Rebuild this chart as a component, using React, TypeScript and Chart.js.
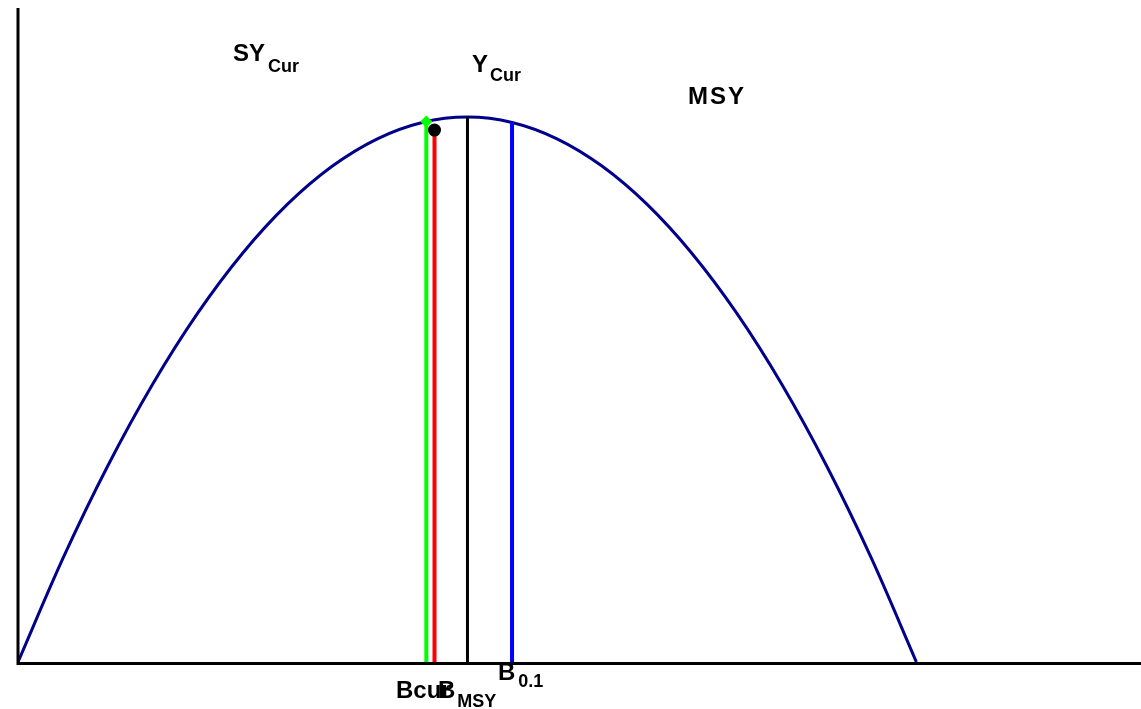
import React, { useEffect, useRef } from "react";
import { Chart, registerables } from "chart.js";

Chart.register(...registerables);

// Biomass (relative to K) and surplus production
const biomass = [0, 0.05, 0.1, 0.15, 0.2, 0.25, 0.3, 0.35, 0.4, 0.45, 0.5, 0.55, 0.6, 0.65, 0.7, 0.75, 0.8, 0.85, 0.9, 0.95, 1.0];
const production = [0, 0.0475, 0.09, 0.1275, 0.16, 0.1875, 0.21, 0.2275, 0.24, 0.2475, 0.25, 0.2475, 0.24, 0.2275, 0.21, 0.1875, 0.16, 0.1275, 0.09, 0.0475, 0];

// Reference points
const bCur = 0.4545;
const sYCur = 0.2479;
const bMsyRed = 0.4636;
const yCur = 0.244;
const bMsy = 0.5003;
const msy = 0.25;
const b01 = 0.5499;
const y01 = 0.2475;

const xMax = 1.25;
const yMax = 0.3;

type Label = { x: number; y: number; main: string; sub: string; size: number; subSize: number; subDy: number; gap: number; spacing?: number };

const topLabels: Label[] = [
  { x: 0.2393, y: 0.2757, main: "SY", sub: "Cur", size: 24, subSize: 18, subDy: 11, gap: 3 },
  { x: 0.5053, y: 0.2706, main: "Y", sub: "Cur", size: 24, subSize: 18, subDy: 9, gap: 2 },
  { x: 0.7458, y: 0.256, main: "MSY", sub: "", size: 24, subSize: 18, subDy: 0, gap: 0, spacing: 2 },
];

const bottomLabels: Label[] = [
  { x: 0.4207, y: -0.0165, main: "Bcur", sub: "", size: 24, subSize: 18, subDy: 0, gap: 0 },
  { x: 0.4675, y: -0.0165, main: "B", sub: "MSY", size: 24, subSize: 18, subDy: 9, gap: 2 },
  { x: 0.5343, y: -0.00826, main: "B", sub: "0.1", size: 24, subSize: 18, subDy: 7, gap: 3 },
];

const FONT = '"Liberation Sans", Arial, sans-serif';

const annotatePlugin = {
  id: "annotate",
  afterDraw(chart: any) {
    const { ctx, chartArea, scales } = chart;
    const xs = scales.x;
    const ys = scales.y;
    ctx.save();
    // axes
    ctx.strokeStyle = "#000";
    ctx.lineWidth = 3;
    ctx.lineCap = "butt";
    const x0 = xs.getPixelForValue(0);
    const y0 = ys.getPixelForValue(0);
    ctx.beginPath();
    ctx.moveTo(x0, chartArea.top);
    ctx.lineTo(x0, y0 + 1.5);
    ctx.lineTo(chartArea.right, y0 + 1.5);
    ctx.stroke();

    ctx.fillStyle = "#000";
    ctx.textBaseline = "alphabetic";
    ctx.textAlign = "left";
    const drawLabel = (l: Label) => {
      const px = xs.getPixelForValue(l.x);
      const py = ys.getPixelForValue(l.y);
      ctx.font = `bold ${l.size}px ${FONT}`;
      (ctx as any).letterSpacing = l.spacing ? `${l.spacing}px` : "0px";
      ctx.fillText(l.main, px, py);
      const w = ctx.measureText(l.main).width;
      (ctx as any).letterSpacing = "0px";
      if (l.sub) {
        ctx.font = `bold ${l.subSize}px ${FONT}`;
        ctx.fillText(l.sub, px + w + l.gap, py + l.subDy);
      }
    };
    topLabels.forEach(drawLabel);
    bottomLabels.forEach(drawLabel);
    ctx.restore();
  },
};

export default function App() {
  const ref = useRef<HTMLCanvasElement | null>(null);
  useEffect(() => {
    if (!ref.current) return;
    const chart = new Chart(ref.current, {
      type: "line",
      data: {
        datasets: [
          {
            label: "curve",
            data: biomass.map((b, i) => ({ x: b, y: production[i] })),
            borderColor: "#00008B",
            borderWidth: 3,
            pointRadius: 0,
            cubicInterpolationMode: "monotone",
            fill: false,
            order: 6,
          },
          {
            label: "Bcur",
            data: [{ x: bCur, y: 0 }, { x: bCur, y: sYCur }],
            borderColor: "#00FF00",
            backgroundColor: "#00FF00",
            borderWidth: 4,
            pointRadius: [0, 6],
            pointStyle: "rectRot",
            pointBorderWidth: 0,
            order: 5,
          },
          {
            label: "Ycur",
            data: [{ x: bMsyRed, y: 0 }, { x: bMsyRed, y: yCur }],
            borderColor: "#FF0000",
            borderWidth: 4,
            pointRadius: 0,
            order: 4,
          },
          {
            label: "BMSY",
            data: [{ x: bMsy, y: 0 }, { x: bMsy, y: msy }],
            borderColor: "#000000",
            borderWidth: 3,
            pointRadius: 0,
            order: 3,
          },
          {
            label: "B0.1",
            data: [{ x: b01, y: 0 }, { x: b01, y: y01 }],
            borderColor: "#0000FF",
            borderWidth: 4,
            pointRadius: 0,
            order: 2,
          },
          {
            label: "dot",
            data: [{ x: bMsyRed, y: yCur }],
            borderColor: "#000000",
            backgroundColor: "#000000",
            pointRadius: 6.5,
            pointBorderWidth: 0,
            showLine: false,
            order: 1,
          },
        ],
      },
      options: {
        animation: false,
        responsive: false,
        maintainAspectRatio: false,
        layout: { autoPadding: false, padding: { left: 18, top: 8, right: 0, bottom: 47 } },
        plugins: { legend: { display: false }, tooltip: { enabled: false } },
        scales: {
          x: { type: "linear", min: 0, max: xMax, display: false },
          y: { type: "linear", min: 0, max: yMax, display: false },
        },
      } as any,
      plugins: [annotatePlugin],
    });
    return () => chart.destroy();
  }, []);
  return (
    <div style={{ position: "fixed", left: 0, top: 0, width: 1141, height: 709, background: "#fff" }}>
      <canvas ref={ref} width={1141} height={709} style={{ width: 1141, height: 709, display: "block" }} />
    </div>
  );
}
